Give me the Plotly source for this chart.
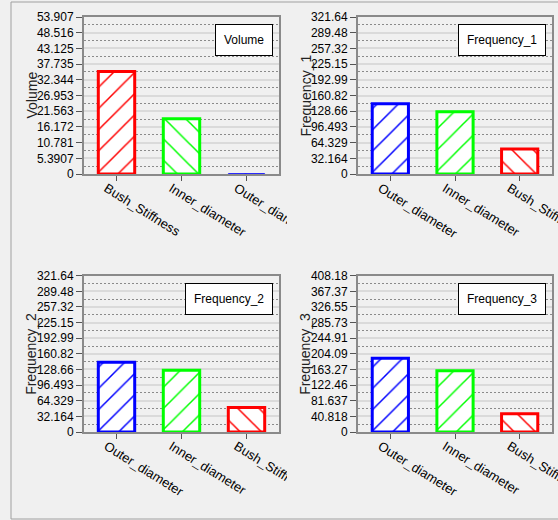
import plotly.graph_objects as go

# ---- data -------------------------------------------------------------
vol_vars = ["Bush_Stiffness", "Inner_diameter", "Outer_diameter"]
vol_vals = [35.2, 19.0, 0.05]
vol_ticks = ["0", "5.3907", "10.781", "16.172", "21.563", "26.953",
             "32.344", "37.735", "43.125", "48.516", "53.907"]

freq_vars = ["Outer_diameter", "Inner_diameter", "Bush_Stiffness"]
freq1_vals = [143.8, 127.4, 51.0]
freq1_ticks = ["0", "32.164", "64.329", "96.493", "128.66", "160.82",
               "192.99", "225.15", "257.32", "289.48", "321.64"]
freq2_vals = [143.5, 127.2, 50.5]
freq2_ticks = ["0", "32.164", "64.329", "96.493", "128.66", "160.82",
               "192.99", "225.15", "257.32", "289.48", "321.64"]
freq3_vals = [192.5, 159.8, 47.4]
freq3_ticks = ["0", "40.818", "81.637", "122.46", "163.27", "204.09",
               "244.91", "285.73", "326.55", "367.37", "408.18"]

var_colors = {"Bush_Stiffness": "#ff0000",
              "Inner_diameter": "#00ff00",
              "Outer_diameter": "#0000ff"}

# ---- page geometry (pixels) -------------------------------------------
W, H = 558, 520
BG = "#f0f0f0"
FONT = "Liberation Sans, Arial, sans-serif"

cols = [(84, 279), (358, 552)]
rows = [(17, 174), (275.7, 432)]

panels = [
    dict(title="Volume", cats=vol_vars, vals=vol_vals, ticks=vol_ticks,
         hatch=["/", "\\", "/"], col=0, row=0),
    dict(title="Frequency_1", cats=freq_vars, vals=freq1_vals, ticks=freq1_ticks,
         hatch=["/", "/", "\\"], col=1, row=0),
    dict(title="Frequency_2", cats=freq_vars, vals=freq2_vals, ticks=freq2_ticks,
         hatch=["/", "/", "\\"], col=0, row=1),
    dict(title="Frequency_3", cats=freq_vars, vals=freq3_vals, ticks=freq3_ticks,
         hatch=["/", "/", "\\"], col=1, row=1),
]


def px_x(x):
    return x / W


def px_y(y):
    return 1 - y / H


fig = go.Figure()
layout = dict(
    width=W, height=H,
    margin=dict(l=0, r=0, t=0, b=0),
    paper_bgcolor=BG, plot_bgcolor="white",
    font=dict(family=FONT, size=12, color="#000000"),
    showlegend=False,
    bargap=0.44,
)
annotations = []
shapes = []

for i, p in enumerate(panels):
    n = "" if i == 0 else str(i + 1)
    x0, x1 = cols[p["col"]]
    y0, y1 = rows[p["row"]]
    colors = [var_colors[c] for c in p["cats"]]
    line_w = [3 if v > 0.5 else 1 for v in p["vals"]]

    fig.add_trace(go.Bar(
        x=p["cats"], y=p["vals"],
        xaxis="x" + n, yaxis="y" + n,
        marker=dict(
            color="white",
            line=dict(color=colors, width=line_w),
            pattern=dict(shape=p["hatch"], fgcolor=colors, bgcolor="white",
                         fgopacity=1, size=15, solidity=0.1),
        ),
        hoverinfo="x+y",
    ))

    ymax = float(p["ticks"][-1])
    tickvals = [float(t) for t in p["ticks"]]
    layout["xaxis" + n] = dict(
        domain=[px_x(x0), px_x(x1)], anchor="y" + n,
        type="category", range=[-0.5, 2.5],
        ticks="outside", ticklen=5, tickcolor="#555555", tickwidth=1,
        tickangle=32, tickfont=dict(size=13, color="#000000"),
        ticklabelshift=-10, ticklabelstandoff=-5,
        showline=True, mirror=True, linecolor="#8a8a8a", linewidth=2,
        showgrid=False, zeroline=False, automargin=False, fixedrange=True,
    )
    layout["yaxis" + n] = dict(
        domain=[px_y(y1), px_y(y0)], anchor="x" + n,
        range=[0, ymax], tickmode="array",
        tickvals=tickvals, ticktext=p["ticks"],
        ticks="outside", ticklen=6, tickcolor="#555555", tickwidth=1,
        tickfont=dict(size=12, color="#000000"),
        showline=True, mirror=True, linecolor="#8a8a8a", linewidth=2,
        showgrid=True, gridcolor="#dadada", gridwidth=2,
        minor=dict(tick0=ymax / 20, dtick=ymax / 10, showgrid=True,
                   gridcolor="#8a8a8a", gridwidth=1, griddash="2px,2px",
                   ticks=""),
        zeroline=False, automargin=False, fixedrange=True,
    )

    # boxed series name in the upper right of each plot
    pw, ph = x1 - x0, y1 - y0
    annotations.append(dict(
        text=p["title"], showarrow=False,
        xref="x" + n + " domain", yref="y" + n + " domain",
        x=1 - 6 / pw, y=1 - 7 / ph, xanchor="right", yanchor="top",
        bgcolor="white", bordercolor="#000000", borderwidth=1, borderpad=8,
        font=dict(size=12, color="#000000"),
    ))
    # vertical axis title
    annotations.append(dict(
        text=p["title"], showarrow=False, textangle=-90,
        xref="paper", yref="paper",
        x=px_x(x0 - 53), y=px_y((y0 + y1) / 2),
        xanchor="center", yanchor="middle",
        font=dict(size=14, color="#222222"),
    ))

# outer panel frame
shapes.append(dict(type="rect", xref="paper", yref="paper", layer="below",
                   x0=px_x(11), x1=1.05, y0=px_y(519), y1=px_y(2),
                   line=dict(color="#a0a0a0", width=1), fillcolor=BG))
# each chart cell clips its own labels at the cell boundary
for (ya, yb) in [(185, 255), (443, 512)]:
    shapes.append(dict(type="rect", xref="paper", yref="paper", layer="above",
                       x0=px_x(287), x1=px_x(362), y0=px_y(yb), y1=px_y(ya),
                       line=dict(width=0), fillcolor=BG))

layout["annotations"] = annotations
layout["shapes"] = shapes
fig.update_layout(**layout)

fig.write_html("out.html")
